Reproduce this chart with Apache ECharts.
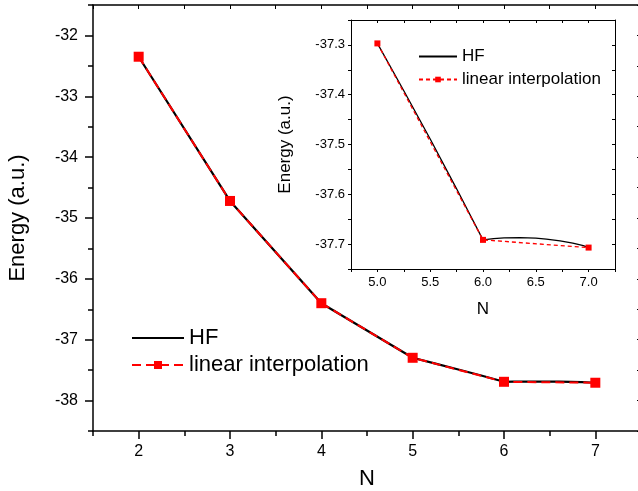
<!DOCTYPE html>
<html><head><meta charset="utf-8">
<script src="https://cdn.jsdelivr.net/npm/echarts@6/dist/echarts.min.js"></script>
<style>html,body{margin:0;padding:0;background:#fff}#c{width:638px;height:491px}</style>
</head><body><div id="c"></div>
<script>
// ---- data ----
const nValues = [2, 3, 4, 5, 6, 7];
const linearEnergy = [-32.35, -34.72, -36.40, -37.297, -37.6915, -37.707];
const hfN = [2, 3, 4, 5, 5.25, 5.5, 5.75, 6, 6.1, 6.2, 6.35, 6.5, 6.6, 6.73, 6.85, 6.95, 7];
const hfEnergy = [-32.35, -34.72, -36.40, -37.297, -37.392, -37.489, -37.589, -37.6915, -37.689, -37.6877, -37.687, -37.688, -37.690, -37.6935, -37.698, -37.703, -37.707];
const mainXTicks = [2, 3, 4, 5, 6, 7];
const mainYTicks = [-38, -37, -36, -35, -34, -33, -32];
const insetXTicks = [5.0, 5.5, 6.0, 6.5, 7.0];
const insetYTicks = [-37.7, -37.6, -37.5, -37.4, -37.3];

const FONT = 'Liberation Sans, Arial, sans-serif';
const hfPairs = hfN.map((n, i) => [n, hfEnergy[i]]);
const linPairs = nValues.map((n, i) => [n, linearEnergy[i]]);
const insetHF = hfPairs.filter(p => p[0] >= 5);
const insetLin = linPairs.filter(p => p[0] >= 5);

const chart = echarts.init(document.getElementById('c'), null, {renderer: 'canvas'});
const blackLine = w => ({show: true, lineStyle: {color: '#000', width: w}});
const noSplit = {show: false};

chart.setOption({
  backgroundColor: '#fff',
  animation: false,
  textStyle: {fontFamily: FONT},
  grid: [
    {left: 93, top: 5, width: 548, height: 426, containLabel: false, outerBoundsMode: 'none'},
    {left: 351, top: 20, width: 264, height: 249, containLabel: false, outerBoundsMode: 'none', show: true, backgroundColor: '#fff', borderWidth: 0}
  ],
  legend: [
    {
      orient: 'vertical', left: 126, top: 322, itemWidth: 52, itemHeight: 10, itemGap: 5,
      textStyle: {fontSize: 22, color: '#000', fontFamily: FONT},
      data: [{name: 'HF', itemStyle: {opacity: 0}}, 'linear interpolation']
    },
    {
      orient: 'vertical', left: 413, top: 43, itemWidth: 38, itemHeight: 7, itemGap: 6,
      textStyle: {fontSize: 17, color: '#000', fontFamily: FONT},
      data: [{name: 'HF_inset', itemStyle: {opacity: 0}}, 'linear interpolation_inset'],
      formatter: name => name.replace('_inset', '')
    }
  ],
  xAxis: [
    { // 0 main bottom (major)
      type: 'value', gridIndex: 0, position: 'bottom', min: 1.5, max: 7.5, interval: 0.5,
      axisLine: blackLine(1.5), splitLine: noSplit,
      axisTick: {show: true, inside: false, length: 8, lineStyle: {color: '#000', width: 1.5}, customValues: mainXTicks},
      axisLabel: {show: true, customValues: mainXTicks, fontSize: 16, color: '#000', margin: 13, fontFamily: FONT},
      name: 'N', nameLocation: 'middle', nameGap: 37,
      nameTextStyle: {fontSize: 22, color: '#000', fontFamily: FONT}
    },
    { // 1 main bottom (minor)
      type: 'value', gridIndex: 0, position: 'bottom', min: 1.5, max: 7.5, interval: 0.5,
      axisLine: {show: false}, splitLine: noSplit, axisLabel: {show: false},
      axisTick: {show: true, inside: false, length: 5, lineStyle: {color: '#000', width: 1.5}}
    },
    { // 2 main top
      type: 'value', gridIndex: 0, position: 'top', min: 1.5, max: 7.5, interval: 0.5,
      axisLine: blackLine(1.5), splitLine: noSplit, axisLabel: {show: false},
      axisTick: {show: true, inside: true, length: 4, lineStyle: {color: '#000', width: 1}}
    },
    { // 3 inset bottom
      type: 'value', gridIndex: 1, position: 'bottom', min: 4.75, max: 7.25, interval: 0.25,
      axisLine: blackLine(1), splitLine: noSplit,
      axisTick: {show: true, inside: false, length: 3, lineStyle: {color: '#000', width: 1}},
      axisLabel: {show: true, customValues: insetXTicks, formatter: v => Number(v).toFixed(1), fontSize: 13, color: '#000', margin: 7, fontFamily: FONT},
      name: 'N', nameLocation: 'middle', nameGap: 32,
      nameTextStyle: {fontSize: 17, color: '#000', fontFamily: FONT}
    },
    { // 4 inset top
      type: 'value', gridIndex: 1, position: 'top', min: 4.75, max: 7.25, interval: 0.25,
      axisLine: blackLine(1), splitLine: noSplit, axisLabel: {show: false},
      axisTick: {show: true, inside: true, length: 3, lineStyle: {color: '#000', width: 1}}
    }
  ],
  yAxis: [
    { // 0 main left major
      type: 'value', gridIndex: 0, position: 'left', min: -38.5, max: -31.5, interval: 0.5,
      axisLine: blackLine(1.5), splitLine: noSplit,
      axisTick: {show: true, inside: false, length: 8, lineStyle: {color: '#000', width: 1.5}, customValues: mainYTicks},
      axisLabel: {show: true, customValues: mainYTicks, fontSize: 16, color: '#000', margin: 15, fontFamily: FONT},
      name: 'Energy (a.u.)', nameLocation: 'middle', nameGap: 64,
      nameTextStyle: {fontSize: 22, color: '#000', fontFamily: FONT}
    },
    { // 1 main left minor
      type: 'value', gridIndex: 0, position: 'left', min: -38.5, max: -31.5, interval: 0.5,
      axisLine: {show: false}, splitLine: noSplit, axisLabel: {show: false},
      axisTick: {show: true, inside: false, length: 5, lineStyle: {color: '#000', width: 1.5}}
    },
    { // 2 main right
      type: 'value', gridIndex: 0, position: 'right', min: -38.5, max: -31.5, interval: 0.5,
      axisLine: blackLine(1.5), splitLine: noSplit, axisLabel: {show: false},
      axisTick: {show: true, inside: true, length: 4}
    },
    { // 3 inset left
      type: 'value', gridIndex: 1, position: 'left', min: -37.75, max: -37.25, interval: 0.05,
      axisLine: blackLine(1), splitLine: noSplit,
      axisTick: {show: true, inside: false, length: 3, lineStyle: {color: '#000', width: 1}},
      axisLabel: {show: true, customValues: insetYTicks, formatter: v => Number(v).toFixed(1), fontSize: 13, color: '#000', margin: 6, fontFamily: FONT},
      name: 'Energy (a.u.)', nameLocation: 'middle', nameGap: 57,
      nameTextStyle: {fontSize: 17, color: '#000', fontFamily: FONT}
    },
    { // 4 inset right
      type: 'value', gridIndex: 1, position: 'right', min: -37.75, max: -37.25, interval: 0.05,
      axisLine: blackLine(1), splitLine: noSplit, axisLabel: {show: false},
      axisTick: {show: true, inside: true, length: 3, lineStyle: {color: '#000', width: 1}}
    }
  ],
  series: [
    {
      name: 'HF', type: 'line', xAxisIndex: 0, yAxisIndex: 0, data: hfPairs,
      showSymbol: false, symbol: 'none', lineStyle: {color: '#000', width: 2.2}, itemStyle: {color: '#000'}, z: 2
    },
    {
      name: 'linear interpolation', type: 'line', xAxisIndex: 0, yAxisIndex: 0, data: linPairs,
      symbol: 'rect', symbolSize: 10, showSymbol: true,
      lineStyle: {color: '#ff0000', width: 2, type: [9, 5]}, itemStyle: {color: '#ff0000'}, z: 3
    },
    {
      name: 'HF_inset', type: 'line', xAxisIndex: 3, yAxisIndex: 3, data: insetHF,
      symbol: 'none', lineStyle: {color: '#000', width: 1.3}, itemStyle: {color: '#000'}, z: 4
    },
    {
      name: 'linear interpolation_inset', type: 'line', xAxisIndex: 3, yAxisIndex: 3, data: insetLin,
      symbol: 'rect', symbolSize: 6, showSymbol: true,
      lineStyle: {color: '#ff0000', width: 1.3, type: [4, 3]}, itemStyle: {color: '#ff0000'}, z: 5
    }
  ]
});
</script>
</body></html>
